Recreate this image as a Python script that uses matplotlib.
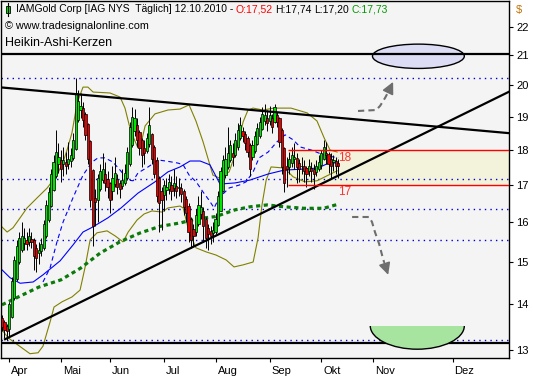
import numpy as np
import matplotlib.pyplot as plt
import matplotlib.transforms as mtransforms
from matplotlib.patches import Ellipse, Rectangle
from matplotlib.ticker import NullLocator

plt.rcParams['font.family'] = ['Liberation Sans', 'DejaVu Sans']

# ---- data (bar index 0 = 1 Apr 2010, trading days) ----
first_bar = -3
ha_open = [
    13.70, 13.60, 13.51, 13.45, 13.72, 14.14, 14.60, 15.00, 15.30, 15.48,
    15.54, 15.50, 15.57, 15.54, 15.35, 15.22, 15.26, 15.35, 15.65, 16.05,
    16.42, 16.86, 17.25, 17.60, 17.70, 17.58, 17.64, 17.60, 17.68, 17.76,
    18.03, 18.89, 19.20, 19.28, 19.09, 18.77, 18.26, 17.43, 16.66, 16.60,
    16.90, 17.15, 17.30, 17.18, 17.06, 16.83, 17.02, 17.18, 17.07, 16.98,
    17.06, 17.20, 17.58, 18.14, 18.57, 18.76, 18.53, 18.29, 18.07, 17.98,
    18.17, 18.46, 18.10, 17.70, 17.20, 16.85, 16.72, 16.86, 16.90, 17.00,
    16.92, 16.98, 16.92, 16.93, 16.84, 16.62, 16.44, 16.10, 15.82, 15.74,
    15.97, 16.21, 16.30, 16.10, 15.85, 15.78, 15.72, 15.76, 15.93, 16.31,
    16.85, 17.28, 17.51, 17.70, 17.92, 17.86, 18.08, 18.34, 18.55, 18.47,
    18.34, 18.14, 17.80, 17.97, 18.19, 18.42, 18.63, 18.87, 18.96, 18.88,
    18.96, 18.83, 19.06, 18.96, 18.60, 18.05, 17.55, 17.50, 17.62, 17.74,
    17.77, 17.63, 17.54, 17.55, 17.48, 17.39, 17.47, 17.44, 17.37, 17.46,
    17.56, 17.73, 17.92, 17.88, 17.74, 17.65, 17.67, 17.61]
ha_close = [
    13.50, 13.42, 13.40, 14.00, 14.55, 15.05, 15.40, 15.60, 15.65, 15.60,
    15.45, 15.65, 15.50, 15.15, 15.10, 15.30, 15.45, 15.95, 16.45, 16.80,
    17.30, 17.65, 17.95, 17.80, 17.45, 17.70, 17.55, 17.75, 17.85, 18.30,
    19.75, 19.50, 19.35, 18.90, 18.45, 17.75, 16.60, 15.90, 16.55, 17.20,
    17.40, 17.45, 17.05, 16.95, 16.60, 17.20, 17.35, 16.95, 16.90, 17.15,
    17.35, 17.95, 18.70, 19.00, 18.95, 18.30, 18.05, 17.85, 17.90, 18.35,
    18.75, 17.75, 17.30, 16.70, 16.50, 16.60, 17.00, 16.95, 17.10, 16.85,
    17.05, 16.85, 16.95, 16.75, 16.40, 16.25, 15.75, 15.55, 15.65, 16.20,
    16.45, 16.40, 15.90, 15.60, 15.70, 15.65, 15.80, 16.10, 16.70, 17.40,
    17.70, 17.75, 17.90, 18.15, 17.80, 18.30, 18.60, 18.75, 18.40, 18.20,
    17.95, 17.45, 18.15, 18.40, 18.65, 18.85, 19.10, 19.05, 18.80, 19.05,
    18.70, 19.30, 18.85, 18.25, 17.50, 17.05, 17.45, 17.75, 17.85, 17.80,
    17.50, 17.45, 17.55, 17.40, 17.30, 17.55, 17.40, 17.30, 17.55, 17.65,
    17.90, 18.10, 17.85, 17.60, 17.55, 17.70, 17.55, 17.55]
ha_high = [
    13.75, 13.65, 13.55, 14.05, 14.65, 15.15, 15.55, 15.75, 16.00, 15.85,
    15.75, 15.85, 15.75, 15.60, 15.45, 15.50, 15.60, 16.05, 16.60, 16.95,
    17.45, 17.85, 18.60, 18.20, 18.00, 18.10, 17.95, 18.25, 18.05, 18.50,
    20.25, 19.85, 19.75, 19.45, 19.15, 18.80, 18.30, 17.45, 16.90, 17.30,
    17.60, 17.90, 17.65, 17.40, 17.10, 17.55, 17.80, 17.30, 17.15, 17.45,
    17.60, 18.10, 18.85, 19.30, 19.25, 18.95, 18.60, 18.35, 18.30, 18.50,
    19.30, 18.50, 18.15, 17.80, 17.25, 16.95, 17.15, 17.20, 17.30, 17.25,
    17.45, 17.25, 17.20, 17.05, 16.90, 16.70, 16.50, 16.15, 15.95, 16.35,
    16.70, 16.85, 16.40, 16.15, 15.95, 15.90, 16.00, 16.25, 16.85, 17.50,
    17.85, 18.10, 18.70, 18.30, 18.20, 18.50, 18.80, 19.00, 18.70, 18.55,
    18.40, 18.20, 18.30, 18.55, 18.80, 19.00, 19.30, 19.40, 19.20, 19.35,
    19.10, 19.40, 19.15, 19.00, 18.65, 18.10, 17.80, 17.95, 18.10, 18.20,
    17.90, 17.75, 17.80, 17.70, 17.55, 17.75, 17.65, 17.60, 17.70, 17.85,
    18.00, 18.30, 18.25, 17.95, 17.90, 17.85, 17.80, 17.74]
ha_low = [
    13.40, 13.25, 13.22, 13.30, 13.70, 14.10, 14.55, 14.95, 15.25, 15.30,
    15.30, 15.40, 15.35, 14.80, 14.75, 14.95, 15.15, 15.30, 15.60, 16.00,
    16.40, 16.85, 17.20, 17.35, 17.10, 17.25, 17.30, 17.45, 17.50, 17.70,
    18.00, 18.85, 18.95, 18.70, 18.30, 17.60, 16.40, 15.40, 15.90, 16.00,
    16.85, 17.05, 16.85, 16.65, 16.25, 16.60, 16.95, 16.75, 16.65, 16.90,
    17.00, 17.15, 17.55, 18.10, 18.40, 18.10, 17.85, 17.50, 17.60, 17.90,
    18.10, 17.60, 17.20, 16.55, 15.75, 15.80, 16.30, 16.60, 16.75, 16.60,
    16.70, 16.65, 16.70, 16.55, 16.20, 16.00, 15.50, 15.35, 15.40, 15.65,
    15.90, 16.10, 15.50, 15.35, 15.30, 15.45, 15.50, 15.70, 15.90, 16.30,
    16.80, 17.20, 17.45, 17.65, 17.55, 17.80, 18.00, 18.30, 18.25, 18.00,
    17.80, 17.25, 17.70, 17.90, 18.15, 18.35, 18.60, 18.75, 18.55, 18.75,
    18.50, 18.80, 18.70, 18.10, 17.30, 16.80, 16.95, 17.30, 17.50, 17.45,
    17.05, 17.10, 17.30, 17.10, 16.95, 17.25, 17.10, 16.90, 17.25, 17.40,
    17.45, 17.70, 17.60, 17.35, 17.20, 17.40, 17.30, 17.20]

# indicator lines (bar position, price)
ma_fast_x = [13.7, 16.6, 19.4, 21.9, 25.9, 30.0, 33.7, 36.1, 38.9, 42.2, 45.1, 48.4, 50.4,
             52.4, 56.5, 60.6, 64.6, 68.7, 70.8, 73.2, 76.1, 78.9, 81.3, 83.4, 85.4,
             89.5, 93.6, 96.4, 99.3, 101.7, 105.4, 109.0, 112.3, 115.6, 118.4, 122.9,
             128.2, 133.9]
ma_fast_y = [14.52, 14.86, 15.50, 16.01, 16.65, 17.28, 17.65, 17.77, 17.77, 17.65, 17.42,
             17.14, 17.12, 17.34, 17.51, 17.71, 17.67, 17.62, 17.57, 17.28, 17.09, 16.81,
             16.59, 16.38, 16.65, 16.92, 17.00, 17.09, 17.37, 17.77, 17.94, 18.24, 18.45,
             18.30, 18.09, 18.00, 17.85, 17.77]
ma_mid_x = [-3.0, 0.3, 4.4, 9.7, 13.7, 20.7, 25.9, 30.0, 33.7, 40.2, 45.5, 52.4, 59.3,
            64.6, 69.5, 73.6, 77.7, 81.7, 85.8, 91.9, 98.0, 105.4, 111.9, 120.0, 125.7,
            131.0, 133.9]
ma_mid_y = [14.81, 14.62, 14.49, 14.52, 14.69, 15.03, 15.42, 15.75, 15.87, 16.12, 16.38,
            16.78, 17.09, 17.37, 17.51, 17.68, 17.68, 17.57, 17.03, 17.06, 17.14, 17.31,
            17.42, 17.45, 17.48, 17.65, 17.60]
ma_slow_x = [-3, 4, 12, 21, 29, 37, 45, 53, 61, 70, 76, 84, 92, 98, 105, 112, 120, 128, 134]
ma_slow_y = [13.99, 14.18, 14.40, 14.57, 14.85, 15.22, 15.50, 15.72, 15.89, 15.99, 16.09,
             16.15, 16.33, 16.41, 16.46, 16.41, 16.37, 16.37, 16.48]
bb_up_x = [-3.0, -0.9, 1.5, 4.4, 7.2, 11.3, 15.4, 19.4, 21.9, 23.5, 25.5, 27.6, 30.0, 32.0,
           34.1, 41.0, 45.1, 47.1, 48.8, 50.4, 52.4, 53.2, 55.3, 59.3, 64.6, 69.5, 73.2,
           76.0, 78.9, 82.9, 85.4, 89.5, 92.3, 95.2, 97.2, 99.3, 103.3, 107.8, 114.7,
           121.3, 125.3, 128.2, 130.6, 133.5]
bb_up_y = [15.88, 15.75, 15.86, 16.12, 16.38, 16.65, 16.92, 17.28, 17.65, 18.00, 18.51,
           19.43, 19.94, 19.94, 19.78, 19.75, 19.62, 19.27, 18.75, 18.39, 18.06, 18.06,
           18.72, 19.09, 19.21, 19.24, 19.37, 18.87, 18.24, 17.28, 17.20, 17.37, 17.94,
           18.84, 19.21, 19.27, 19.21, 19.27, 19.27, 19.12, 18.87, 18.36, 18.00, 17.94]
bb_lo_x = [-3.0, -0.5, 2.3, 5.2, 8.4, 11.7, 13.7, 16.6, 18.2, 21.5, 25.5, 28.8, 30.8, 32.9,
           35.7, 39.8, 43.1, 46.3, 48.4, 52.0, 54.9, 58.1, 62.2, 64.6, 69.5, 70.8, 73.2,
           76.0, 80.1, 84.2, 88.3, 91.5, 95.2, 99.3, 101.3, 102.9, 104.6, 106.6, 111.9,
           115.6, 120.4, 125.3, 129.4, 133.5]
bb_lo_y = [13.43, 13.26, 13.15, 13.04, 12.92, 12.94, 13.08, 13.61, 13.94, 14.06, 14.17,
           14.33, 14.86, 15.55, 15.73, 15.78, 15.65, 15.50, 15.75, 16.06, 16.22, 16.30,
           16.27, 16.38, 16.43, 16.38, 15.75, 15.35, 15.25, 15.17, 15.05, 14.88, 14.93,
           15.00, 15.60, 16.46, 17.14, 17.51, 17.48, 17.23, 17.09, 17.12, 17.26, 17.40]

# drawn trend lines and levels
resist_x, resist_y = [-3.4, 203.5], [19.93, 18.50]
support_x, support_y = [-1.75, 203.5], [13.228, 19.79]
hard_levels = [21.03, 13.155]
dotted_levels = [20.23, 17.18, 16.35, 15.55, 13.21]
box_start, box_low, box_high = 113.5, 17.0, 18.0
up_arrow_x = [142.0, 149.4, 151.0, 153.0, 154.3]
up_arrow_y = [19.18, 19.21, 19.34, 19.59, 19.78]
up_tip = (156.3, 20.11)
dn_arrow_x = [139.6, 146.5, 147.7, 148.9, 150.6, 151.8, 152.6]
dn_arrow_y = [16.14, 16.14, 16.01, 15.75, 15.45, 15.17, 15.00]
dn_tip = (154.3, 14.69)

month_pos = [0, 21, 41, 63, 84, 106, 127, 148, 180.5]
month_lbl = ['Apr', 'Mai', 'Jun', 'Jul', 'Aug', 'Sep', 'Okt', 'Nov', 'Dez']
price_ticks = [13, 14, 15, 16, 17, 18, 19, 20, 21, 22]

W, H = 533, 380
fig = plt.figure(figsize=(W / 100, H / 100), dpi=100)
fig.patch.set_facecolor('white')
ax = fig.add_axes([1 / W, (H - 358) / H, 508 / W, 357 / H])
ax.set_facecolor('#f4f4f4')
ax.set_yscale('log')
ax.set_xlim(-3.4, 203.5)
ax.set_ylim(12.83, 22.94)

# target box
ax.fill_between([box_start, 203.5], box_low, box_high, color='#f3f3dc', zorder=1)
for lv in dotted_levels:
    ax.axhline(lv, color='#0000d0', lw=1.0, ls=(0, (1, 3)), zorder=1.5)

# indicators
ax.plot(bb_up_x, bb_up_y, color='#808000', lw=0.8, zorder=2)
ax.plot(bb_lo_x, bb_lo_y, color='#808000', lw=0.8, zorder=2)
ax.plot(ma_mid_x, ma_mid_y, color='#0000ff', lw=0.8, zorder=2)
ax.plot(ma_fast_x, ma_fast_y, color='#0000ff', lw=0.8, ls=(0, (4, 3)), zorder=2)
ax.plot(ma_slow_x, ma_slow_y, color='#0b7a0b', lw=2.3, ls=(0, (1.3, 1.1)), zorder=2)

# heikin-ashi candles
bars = np.arange(first_bar, first_bar + len(ha_open))
o, c = np.array(ha_open), np.array(ha_close)
hi, lo = np.array(ha_high), np.array(ha_low)
ax.vlines(bars, lo, hi, color='black', lw=0.7, zorder=3)
bot = np.minimum(o, c)
top = np.maximum(o, c)
cols = np.where(c >= o, '#00e600', '#e60000')
ax.bar(bars, top - bot, bottom=bot, width=0.9, color=cols,
       edgecolor='black', linewidth=0.5, zorder=4)

# trend lines and levels
ax.plot(resist_x, resist_y, color='black', lw=1.6, zorder=5)
ax.plot(support_x, support_y, color='black', lw=1.6, zorder=5)
for lv in hard_levels:
    ax.axhline(lv, color='black', lw=1.6, zorder=5)
ax.hlines([box_high, box_low], box_start, 203.5, colors='#ff0000', lw=1.0, zorder=5)
ax.text(133.8, 17.78, '18', color='#ff3030', fontsize=8.5, va='center', ha='left', zorder=6)
ax.text(133.8, 16.82, '17', color='#ff3030', fontsize=8.5, va='center', ha='left', zorder=6)

# target shapes
ax.add_patch(Ellipse((166.6, 20.97), 37.4, 0.83, facecolor='#dcdcf5',
                     edgecolor='black', lw=1.0, zorder=4))
bowl = Ellipse((166.15, 13.518), 38.3, 1.006, facecolor='#a6e4a0',
               edgecolor='black', lw=1.0, zorder=6)
ax.add_patch(bowl)
clip = Rectangle((140, 12.0), 60, 13.518 - 12.0, transform=ax.transData)
bowl.set_clip_path(clip)

# scenario arrows
for px, py, tip in [(up_arrow_x, up_arrow_y, up_tip), (dn_arrow_x, dn_arrow_y, dn_tip)]:
    ax.plot(px, py, color='#6e6e6e', lw=1.5, ls=(0, (3, 2)), zorder=6)
    ax.annotate('', xy=tip, xytext=(px[-1], py[-1]),
                arrowprops=dict(arrowstyle='-|>,head_length=0.7,head_width=0.35',
                                color='#6e6e6e', lw=1.2, shrinkA=0, shrinkB=0,
                                mutation_scale=10), zorder=6)

# axes styling
for sp in ax.spines.values():
    sp.set_linewidth(1.0)
    sp.set_color('black')
ax.yaxis.tick_right()
ax.set_yticks(price_ticks)
ax.set_yticklabels([str(t) for t in price_ticks])
ax.yaxis.set_minor_locator(NullLocator())
ax.tick_params(axis='y', direction='out', length=3, pad=2, labelsize=8, width=0.8)
ax.set_xticks(month_pos)
ax.set_xticklabels(month_lbl)
ax.tick_params(axis='x', direction='out', length=3, pad=3, labelsize=8, width=0.8)
shift = mtransforms.ScaledTranslation(2 / 100, 0, fig.dpi_scale_trans)
for lab in ax.get_xticklabels():
    lab.set_horizontalalignment('left')
    lab.set_transform(lab.get_transform() + shift)

fig.text(516 / W, 1 - 10 / H, '$', color='#c07000', fontsize=8, ha='left', va='center')

# header lines
renderer = fig.canvas.get_renderer()
icon_x = 8 / W
fig.add_artist(plt.Line2D([icon_x, icon_x], [1 - 3 / H, 1 - 16 / H], color='black', lw=0.8))
fig.add_artist(Rectangle((6 / W, 1 - 13 / H), 4 / W, 7 / H, facecolor='#00e600',
                         edgecolor='black', lw=0.6, transform=fig.transFigure))
x = 16 / W
for s, col in [('IAMGold Corp [IAG NYS  Täglich] 12.10.2010 -', 'black'),
               ('O:17,52', '#ff0000'), ('H:17,74', 'black'),
               ('L:17,20', 'black'), ('C:17,73', '#009900')]:
    t = fig.text(x, 1 - 9 / H, s, color=col, fontsize=7.5, ha='left', va='center')
    x = t.get_window_extent(renderer).x1 / fig.bbox.width + 2.5 / W
fig.text(5 / W, 1 - 26 / H, '\u00a9 www.tradesignalonline.com', fontsize=7.8,
         ha='left', va='center')
fig.text(5 / W, 1 - 43 / H, 'Heikin-Ashi-Kerzen', fontsize=9, ha='left', va='center')

fig.savefig('out.png', dpi=100)
